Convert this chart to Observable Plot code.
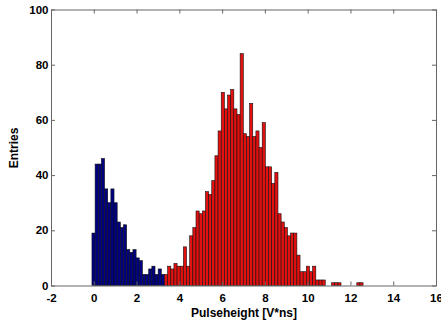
<!DOCTYPE html>
<html>
<head>
<meta charset="utf-8">
<script src="https://cdn.jsdelivr.net/npm/d3@7"></script>
<script src="https://cdn.jsdelivr.net/npm/@observablehq/plot@0.6"></script>
<style>
  html, body { margin: 0; padding: 0; background: white; }
  #chart { width: 441px; height: 324px; overflow: hidden; }
</style>
</head>
<body>
<div id="chart"></div>
<script>
// Histogram bins (left edge of first bin, bin width, in V*ns)
const firstEdge = -0.085;
const binWidth = 0.1474;

// Counts of the low-pulseheight (blue) group, first bins
const blueCounts = [19, 44, 44, 46, 35, 30, 35, 30, 23, 21, 22, 13, 12, 13, 10, 9, 4, 4, 6, 7, 4, 6, 4];

// Counts of the high-pulseheight (red) group, following bins
const redCounts = [4, 7, 6, 8, 7, 7, 14, 7, 18, 21, 27, 26, 27, 34, 33, 38, 47, 56, 70, 64,
  69, 71, 64, 62, 84, 55, 54, 66, 54, 56, 50, 59, 43, 43, 37, 41, 26, 23, 21, 18,
  19, 19, 11, 5, 5, 7, 5, 7, 2, 2, 2, 0, 0, 1, 1, 1, 0, 0, 0, 0, 0, 1, 1];

const xTicks = [-2, 0, 2, 4, 6, 8, 10, 12, 14, 16];
const yTicks = [0, 20, 40, 60, 80, 100];
const xLabel = "Pulseheight [V*ns]";
const yLabel = "Entries";

const bars = [];
blueCounts.forEach((c, i) => bars.push({x1: firstEdge + i * binWidth, x2: firstEdge + (i + 1) * binWidth, y: c, group: "low"}));
redCounts.forEach((c, k) => {
  const i = blueCounts.length + k;
  bars.push({x1: firstEdge + i * binWidth, x2: firstEdge + (i + 1) * binWidth, y: c, group: "high"});
});
const shown = bars.filter(d => d.y > 0);

const W = 441, H = 324, mL = 51, mR = 5, mT = 9.5, mB = 38.5;
const pw = W - mL - mR, ph = H - mT - mB;
const tickLen = 4;

const chart = Plot.plot({
  width: W,
  height: H,
  marginLeft: mL,
  marginRight: mR,
  marginTop: mT,
  marginBottom: mB,
  x: {domain: [-2, 16]},
  y: {domain: [0, 100]},
  color: {domain: ["low", "high"], range: ["#000080", "#e31010"]},
  style: {fontFamily: "'Liberation Sans', Arial, sans-serif", fontWeight: "bold", fontSize: "11px", background: "white", color: "black", overflow: "visible"},
  marks: [
    Plot.rectY(shown, {x1: "x1", x2: "x2", y: "y", fill: "group", stroke: "#111", strokeWidth: 0.6, inset: 0}),
    Plot.frame({stroke: "#666", strokeWidth: 1}),
    Plot.tickX(xTicks, {x: d => d, insetTop: ph - tickLen, stroke: "#666"}),
    Plot.tickX(xTicks, {x: d => d, insetBottom: ph - tickLen, stroke: "#666"}),
    Plot.tickY(yTicks, {y: d => d, insetRight: pw - tickLen, stroke: "#666"}),
    Plot.tickY(yTicks, {y: d => d, insetLeft: pw - tickLen, stroke: "#666"}),
    Plot.axisX({ticks: xTicks, tickSize: 0, tickPadding: 8, tickFormat: d => String(d), label: null, fontSize: 11.5}),
    Plot.axisY({ticks: yTicks, tickSize: 0, tickPadding: 3, tickFormat: d => String(d), label: null, fontSize: 11.5}),
    Plot.text([xLabel], {text: d => d, frameAnchor: "bottom", dy: 27, lineAnchor: "middle", textAnchor: "middle", fontSize: 12, fontWeight: "bold"}),
    Plot.text([yLabel], {text: d => d, frameAnchor: "left", dx: -37, rotate: -90, lineAnchor: "middle", textAnchor: "middle", fontSize: 12, fontWeight: "bold"})
  ]
});
document.getElementById("chart").appendChild(chart);
</script>
</body>
</html>
